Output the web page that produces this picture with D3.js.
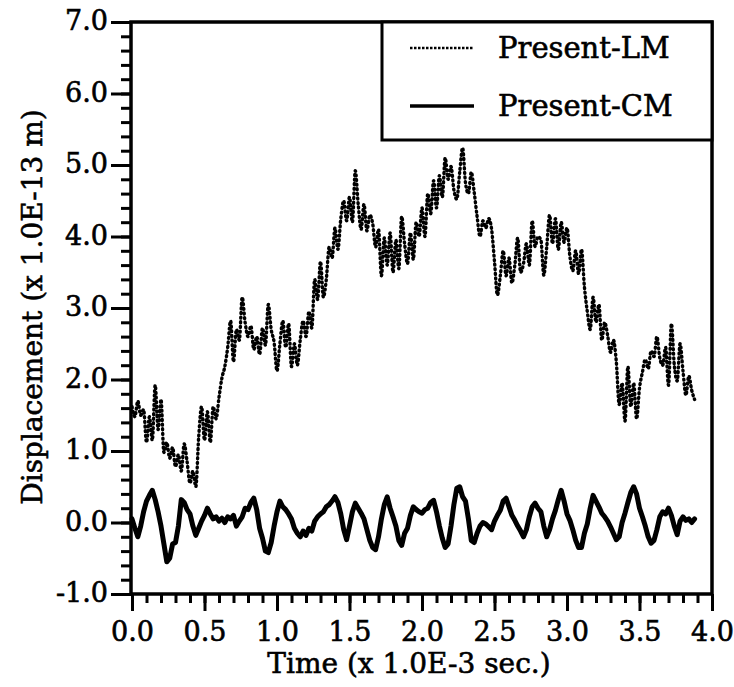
<!DOCTYPE html>
<html><head><meta charset="utf-8">
<script src="https://cdn.jsdelivr.net/npm/d3@7"></script>
<style>
html,body{margin:0;padding:0;background:#fff;}
svg text{font-family:"DejaVu Serif",serif;fill:#000;stroke:#000;stroke-width:0.6px;}
</style></head>
<body><svg id="c" width="734" height="687"></svg>
<script>
// Time samples (x 1.0E-3 sec), step 0.02 from 0.00 to 3.88
const timeStep = 0.02;
const seriesNames = ["Present-LM", "Present-CM"];
const xTickValues = [0.0,0.5,1.0,1.5,2.0,2.5,3.0,3.5,4.0];
const yTickValues = [-1.0,0.0,1.0,2.0,3.0,4.0,5.0,6.0,7.0];
const xLabel = "Time (x 1.0E-3 sec.)";
const yLabel = "Displacement (x 1.0E-13 m)";

const lmValues = [
 1.62,1.48,1.70,1.50,1.58, 1.12,1.48,1.15,1.92,1.30,
 1.72,0.98,1.12,0.90,1.05, 0.78,0.95,0.72,1.10,0.85,
 0.55,0.72,0.50,1.20,1.62, 1.15,1.55,1.12,1.62,1.45,
 1.75,2.02,2.18,2.45,2.82, 2.25,2.70,2.55,3.15,2.80,
 2.60,2.75,2.42,2.60,2.35, 2.72,2.48,3.05,2.70,2.52,
 2.12,2.50,2.82,2.45,2.78, 2.18,2.50,2.20,2.55,2.82,
 2.60,2.95,2.72,3.40,3.12, 3.65,3.15,3.40,3.85,3.70,
 4.12,3.82,4.25,4.50,4.22, 4.55,4.20,4.92,4.45,4.10,
 4.45,4.08,4.30,4.18,3.85, 4.10,3.45,3.98,3.60,4.05,
 3.50,3.95,3.55,4.28,3.90, 3.62,4.05,3.68,4.20,4.00,
 4.40,4.00,4.60,4.32,4.78, 4.40,4.85,4.55,5.10,4.80,
 4.98,4.65,4.52,4.90,5.24, 4.75,4.60,4.90,4.62,4.28,
 4.00,4.22,4.12,4.25,4.10, 3.65,3.18,3.45,3.80,3.45,
 3.70,3.35,3.60,3.98,3.50, 3.62,3.90,3.60,4.22,3.86,
 4.00,3.95,3.46,3.85,4.30, 3.90,4.25,3.82,4.20,3.92,
 4.12,3.72,3.52,3.80,3.48, 3.82,3.30,2.95,2.70,3.15,
 2.80,3.05,2.55,2.80,2.62, 2.38,2.55,2.25,1.65,1.95,
 1.42,2.18,1.62,1.95,1.45, 1.88,2.10,2.28,2.15,2.40,
 2.32,2.60,2.30,2.20,2.45, 1.92,2.78,2.20,1.98,2.50,
 2.12,1.78,2.05,1.85,1.72
];

const cmValues = [
 0.05,-0.08,-0.20,-0.05,0.15, 0.30,0.38,0.45,0.32,0.15,
 -0.05,-0.30,-0.55,-0.50,-0.30, -0.28,-0.05,0.32,0.28,0.18,
 0.12,-0.05,-0.18,-0.08,0.02, 0.10,0.20,0.12,0.05,0.08,
 0.02,0.06,0.00,0.08,0.05, 0.10,-0.05,0.02,0.08,0.20,
 0.18,0.28,0.34,0.18,-0.08, -0.22,-0.40,-0.42,-0.28,-0.05,
 0.15,0.30,0.22,0.18,0.12, 0.05,-0.08,-0.15,-0.20,-0.12,
 -0.18,-0.08,-0.12,0.02,0.08, 0.12,0.15,0.22,0.25,0.30,
 0.36,0.28,0.12,-0.10,-0.24, -0.05,0.15,0.27,0.20,0.13,
 0.05,-0.10,-0.25,-0.35,-0.38, -0.20,0.05,0.25,0.36,0.20,
 0.08,-0.05,-0.25,-0.32,-0.15, -0.08,0.10,0.22,0.18,0.15,
 0.13,0.18,0.20,0.28,0.31, 0.15,-0.05,-0.22,-0.35,-0.30,
 -0.05,0.25,0.48,0.50,0.36, 0.30,0.05,-0.25,-0.28,-0.15,
 -0.05,0.00,-0.02,-0.06,-0.10, 0.02,0.10,0.17,0.30,0.34,
 0.22,0.10,0.03,-0.05,-0.12, -0.20,-0.10,0.08,0.22,0.27,
 0.20,0.15,-0.05,-0.20,-0.10, 0.05,0.17,0.32,0.45,0.30,
 0.12,0.03,-0.10,-0.25,-0.35, -0.35,-0.15,-0.02,0.20,0.38,
 0.30,0.22,0.13,0.08,0.02, -0.06,-0.15,-0.24,-0.20,0.00,
 0.13,0.28,0.42,0.50,0.40, 0.20,0.08,-0.05,-0.20,-0.29,
 -0.25,-0.10,0.08,0.15,0.12, 0.20,0.10,-0.05,-0.17,0.02,
 0.08,0.03,0.05,0.00,0.05
];

const svg = d3.select("#c");
const L = 131, R = 712, T = 22, B = 594;
const x = d3.scaleLinear().domain([0, 4]).range([132, R]);
const y = d3.scaleLinear().domain([-1, 7]).range([B, T]);
const fmt = v => d3.format(".1f")(v).replace("\u2212", "-");

// minor ticks
const yMinor = d3.range(-1, 7.0001, 0.2).map(v => +v.toFixed(1));
const xMinor = d3.range(0, 4.0001, 0.1).map(v => +v.toFixed(1));

const gyMinor = svg.append("g").attr("transform", `translate(${L},0)`)
  .call(d3.axisLeft(y).tickValues(yMinor).tickSize(10).tickFormat(""));
const gyMajor = svg.append("g").attr("transform", `translate(${L},0)`)
  .call(d3.axisLeft(y).tickValues(yTickValues).tickSize(20).tickPadding(5).tickFormat(fmt));
const gxMinor = svg.append("g").attr("transform", `translate(0,${B})`)
  .call(d3.axisBottom(x).tickValues(xMinor).tickSize(9).tickFormat(""));
const gxMajor = svg.append("g").attr("transform", `translate(0,${B})`)
  .call(d3.axisBottom(x).tickValues(xTickValues).tickSize(17).tickPadding(6).tickFormat(fmt));

[gyMinor, gyMajor, gxMinor, gxMajor].forEach(g => {
  g.select(".domain").remove();
  g.selectAll(".tick line").attr("stroke", "#000").attr("stroke-width", 3);
});
gyMajor.selectAll(".tick text").attr("font-size", 27).attr("dy", "0.28em").attr("x", -23);
gxMajor.selectAll(".tick text").attr("font-size", 27).attr("dy", "0.9em");

// frame
svg.append("rect").attr("x", L).attr("y", T).attr("width", R - L).attr("height", B - T)
  .attr("fill", "none").attr("stroke", "#000").attr("stroke-width", 3.5);

// lines
const lmData = lmValues.map((v, i) => ({t: i * timeStep, v}));
const cmData = cmValues.map((v, i) => ({t: i * timeStep, v}));
const line = d3.line().x(d => x(d.t)).y(d => y(d.v)).curve(d3.curveMonotoneX);
const lineLin = d3.line().x(d => x(d.t)).y(d => y(d.v));

svg.append("path").datum(lmData).attr("d", line)
  .attr("fill", "none").attr("stroke", "#000").attr("stroke-width", 3.4)
  .attr("stroke-dasharray", "1,3.6").attr("stroke-linecap", "round").attr("stroke-linejoin", "round");
svg.append("path").datum(cmData).attr("d", lineLin)
  .attr("fill", "none").attr("stroke", "#000").attr("stroke-width", 5)
  .attr("stroke-linejoin", "round").attr("stroke-linecap", "round");

// legend
const lg = svg.append("g");
lg.append("rect").attr("x", 382).attr("y", T).attr("width", R - 382).attr("height", 118)
  .attr("fill", "#fff").attr("stroke", "#000").attr("stroke-width", 3);
lg.append("line").attr("x1", 410).attr("x2", 474).attr("y1", 48).attr("y2", 48)
  .attr("stroke", "#000").attr("stroke-width", 2.4).attr("stroke-dasharray", "2.5,1.5");
lg.append("line").attr("x1", 410).attr("x2", 474).attr("y1", 106).attr("y2", 106)
  .attr("stroke", "#000").attr("stroke-width", 3.5);
lg.append("text").attr("x", 498).attr("y", 58).attr("font-size", 29).text(seriesNames[0]);
lg.append("text").attr("x", 498).attr("y", 116).attr("font-size", 29).text(seriesNames[1]);

// axis titles
svg.append("text").attr("x", 409).attr("y", 673).attr("text-anchor", "middle")
  .attr("font-size", 28).text(xLabel);
svg.append("text").attr("transform", "translate(42,307) rotate(-90)").attr("text-anchor", "middle")
  .attr("font-size", 28).text(yLabel);
</script></body></html>
